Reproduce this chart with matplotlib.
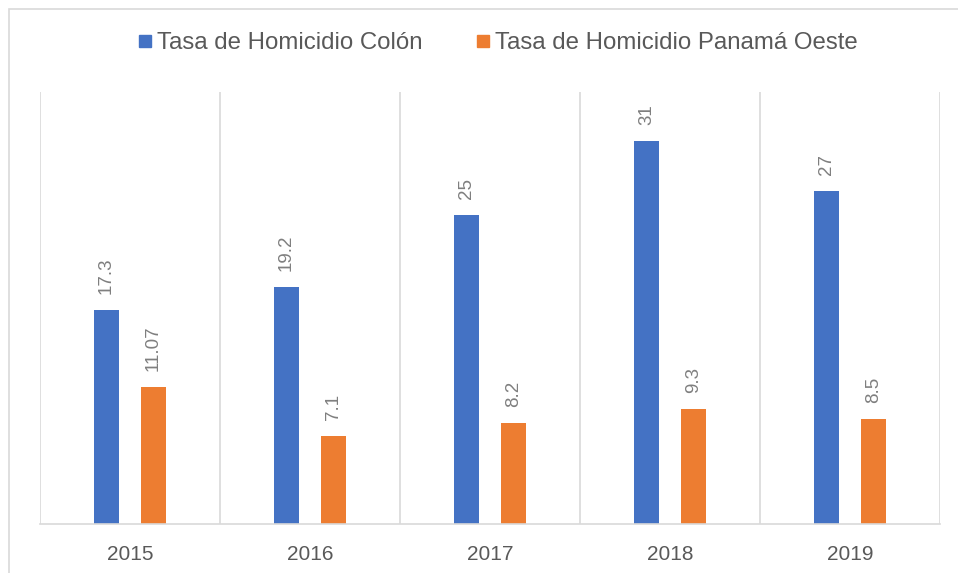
import numpy as np
import matplotlib.pyplot as plt
from matplotlib.lines import Line2D
from matplotlib.patches import Rectangle

plt.rcParams['font.family'] = ['Liberation Sans', 'DejaVu Sans']

years = ["2015", "2016", "2017", "2018", "2019"]
colon = [17.3, 19.2, 25, 31, 27]
panama_oeste = [11.07, 7.1, 8.2, 9.3, 8.5]
colon_labels = ["17.3", "19.2", "25", "31", "27"]
oeste_labels = ["11.07", "7.1", "8.2", "9.3", "8.5"]

blue = "#4472c4"
orange = "#ed7d31"
grey_text = "#595959"

fig = plt.figure(figsize=(9.58, 5.73), dpi=100)
W, H = 958, 573
ax = fig.add_axes([40 / W, 1 - 524 / H, 900 / W, (524 - 92) / H])

# outer chart frame (runs off the right and bottom edges)
fig.patches.append(Rectangle((9 / W, -0.1), 1.2, 1 - 9 / H + 0.1, transform=fig.transFigure,
                             fill=False, edgecolor="#d9d9d9", lw=1.2))

x = np.arange(len(years))
w = 0.14
off = 0.13
ax.bar(x - off, colon, w, color=blue)
ax.bar(x + off, panama_oeste, w, color=orange)

for xi, v, s in zip(x, colon, colon_labels):
    ax.text(xi - off, v + 1.3, s, rotation=90, ha="center", va="bottom",
            fontsize=13.5, color="#7f7f7f")
for xi, v, s in zip(x, panama_oeste, oeste_labels):
    ax.text(xi + off, v + 1.3, s, rotation=90, ha="center", va="bottom",
            fontsize=13.5, color="#7f7f7f")

ax.set_xlim(-0.5, len(years) - 0.5)
ax.set_ylim(0, 35)
ax.set_yticks([])
ax.set_xticks(x)
ax.set_xticklabels(years, fontsize=15, color=grey_text)
ax.tick_params(axis="x", length=0, pad=15)
for xb in np.arange(-0.5, len(years), 1):
    ax.axvline(xb, color="#d9d9d9", lw=1.2, zorder=0)
for sp in ["top", "right", "left"]:
    ax.spines[sp].set_visible(False)
ax.spines["bottom"].set_color("#d9d9d9")
ax.spines["bottom"].set_linewidth(1.2)

handles = [Line2D([], [], marker="s", ls="", color=blue, markersize=8),
           Line2D([], [], marker="s", ls="", color=orange, markersize=8)]
fig.legend(handles, ["Tasa de Homicidio Colón", "Tasa de Homicidio Panamá Oeste"],
           loc="center", bbox_to_anchor=(0.516, 1 - 43 / H), ncol=2, frameon=False,
           fontsize=17.3, labelcolor=grey_text, handletextpad=-0.1, columnspacing=1.9,
           handlelength=1.2)

fig.savefig("out.png", dpi=100)
